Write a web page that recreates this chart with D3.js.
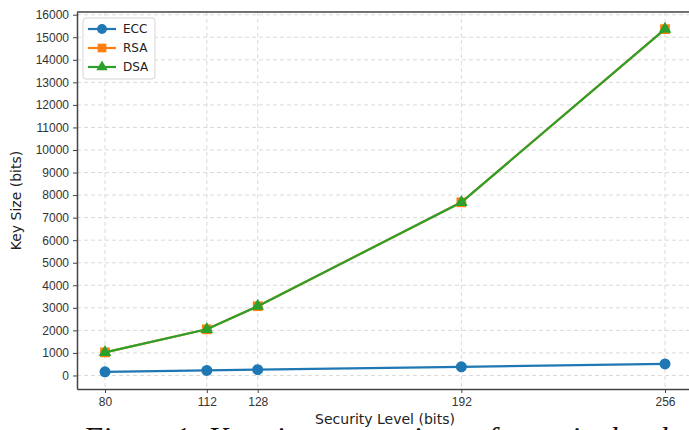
<!DOCTYPE html>
<html lang="en">
<head>
<meta charset="UTF-8">
<title>Key size vs security level</title>
<script src="https://d3js.org/d3.v7.min.js"></script>
<style>
    body { margin: 0; background: #fff; }
    svg { display: block; font-family: "DejaVu Sans", sans-serif; }
    .grid line { stroke: #d0d0d0; stroke-dasharray: 4,3; stroke-width: 0.8px; }
    .axis text { font-size: 12px; fill: #333; }
    .axis path, .axis line { stroke: #444; }
</style>
</head>
<body>
<svg width="689" height="430"></svg>
<script>
    // data
    const securityLevels = [80, 112, 128, 192, 256];
    const eccKeys = [160, 224, 256, 384, 512];
    const rsaKeys = [1024, 2048, 3072, 7680, 15360];
    const dsaKeys = [1024, 2048, 3072, 7680, 15360];
    const yTicks = d3.range(0, 16001, 1000);

    const series = [
        {name: "ECC", values: eccKeys, color: "#1f77b4", symbol: d3.symbolCircle, size: 95},
        {name: "RSA", values: rsaKeys, color: "#ff7f0e", symbol: d3.symbolSquare, size: 95},
        {name: "DSA", values: dsaKeys, color: "#2ca02c", symbol: d3.symbolTriangle, size: 70}
    ];

    const svg = d3.select("svg");
    const plotLeft = 77, plotRight = 693, plotTop = 12, plotBottom = 389;

    // matplotlib-style 5% margins
    const xPad = (256 - 80) * 0.05;
    const yPad = (15360 - 160) * 0.05;
    const x = d3.scaleLinear().domain([80 - xPad, 256 + xPad]).range([plotLeft, plotRight]);
    const y = d3.scaleLinear().domain([160 - yPad, 15360 + yPad]).range([plotBottom, plotTop]);

    // grid
    const grid = svg.append("g").attr("class", "grid");
    grid.selectAll(".gx").data(securityLevels).join("line")
        .attr("class", "gx")
        .attr("x1", d => x(d)).attr("x2", d => x(d))
        .attr("y1", plotTop).attr("y2", plotBottom);
    grid.selectAll(".gy").data(yTicks).join("line")
        .attr("class", "gy")
        .attr("x1", plotLeft).attr("x2", plotRight)
        .attr("y1", d => y(d)).attr("y2", d => y(d));

    // axes
    svg.append("g").attr("class", "axis")
        .attr("transform", `translate(0,${plotBottom})`)
        .call(d3.axisBottom(x).tickValues(securityLevels).tickSize(4).tickPadding(4).tickSizeOuter(0))
        .call(g => g.select(".domain").attr("stroke-width", 1.5));
    svg.append("g").attr("class", "axis")
        .attr("transform", `translate(${plotLeft},0)`)
        .call(d3.axisLeft(y).tickValues(yTicks).tickFormat(d3.format("d")).tickSize(4).tickPadding(4).tickSizeOuter(0))
        .call(g => g.select(".domain").attr("stroke-width", 1.5));
    svg.append("line").attr("x1", plotLeft).attr("x2", plotRight)
        .attr("y1", plotTop).attr("y2", plotTop)
        .attr("stroke", "#444").attr("stroke-width", 1.5);

    // lines + markers
    const line = d3.line()
        .x((d, i) => x(securityLevels[i]))
        .y(d => y(d));

    series.forEach(s => {
        const g = svg.append("g");
        g.append("path")
            .datum(s.values)
            .attr("d", line)
            .attr("fill", "none")
            .attr("stroke", s.color)
            .attr("stroke-width", 2.2);
        g.selectAll("path.m").data(s.values).join("path")
            .attr("class", "m")
            .attr("transform", (d, i) => `translate(${x(securityLevels[i])},${y(d)})`)
            .attr("d", d3.symbol().type(s.symbol).size(s.size))
            .attr("fill", s.color);
    });

    // legend
    const legend = svg.append("g").attr("transform", "translate(83,18)");
    legend.append("rect")
        .attr("width", 72).attr("height", 61).attr("rx", 3)
        .attr("fill", "#fff").attr("fill-opacity", 0.85)
        .attr("stroke", "#d5d5d5");
    const items = legend.selectAll(".item").data(series).join("g")
        .attr("class", "item")
        .attr("transform", (d, i) => `translate(0,${11 + i * 19})`);
    items.append("line")
        .attr("x1", 5).attr("x2", 33)
        .attr("stroke", d => d.color).attr("stroke-width", 2.2);
    items.append("path")
        .attr("transform", "translate(19,0)")
        .attr("d", d => d3.symbol().type(d.symbol).size(d.size * 0.8)())
        .attr("fill", d => d.color);
    items.append("text")
        .attr("x", 40).attr("dy", "0.35em")
        .attr("font-size", 12).attr("fill", "#222")
        .text(d => d.name);

    // labels
    svg.append("text")
        .attr("x", (plotLeft + plotRight) / 2).attr("y", 424)
        .attr("text-anchor", "middle")
        .attr("font-size", 14).attr("fill", "#222")
        .text("Security Level (bits)");
    svg.append("text")
        .attr("transform", `translate(21,${(plotTop + plotBottom) / 2}) rotate(-90)`)
        .attr("text-anchor", "middle")
        .attr("font-size", 14).attr("fill", "#222")
        .text("Key Size (bits)");

    // caption of the page, only its top edge shows at the bottom
    svg.append("text")
        .attr("x", 83).attr("y", 449)
        .attr("font-family", "Liberation Serif, serif")
        .attr("font-style", "italic")
        .attr("font-size", 31).attr("fill", "#111")
        .text("Figure 1: Key size comparison of security levels");
</script>
</body>
</html>
